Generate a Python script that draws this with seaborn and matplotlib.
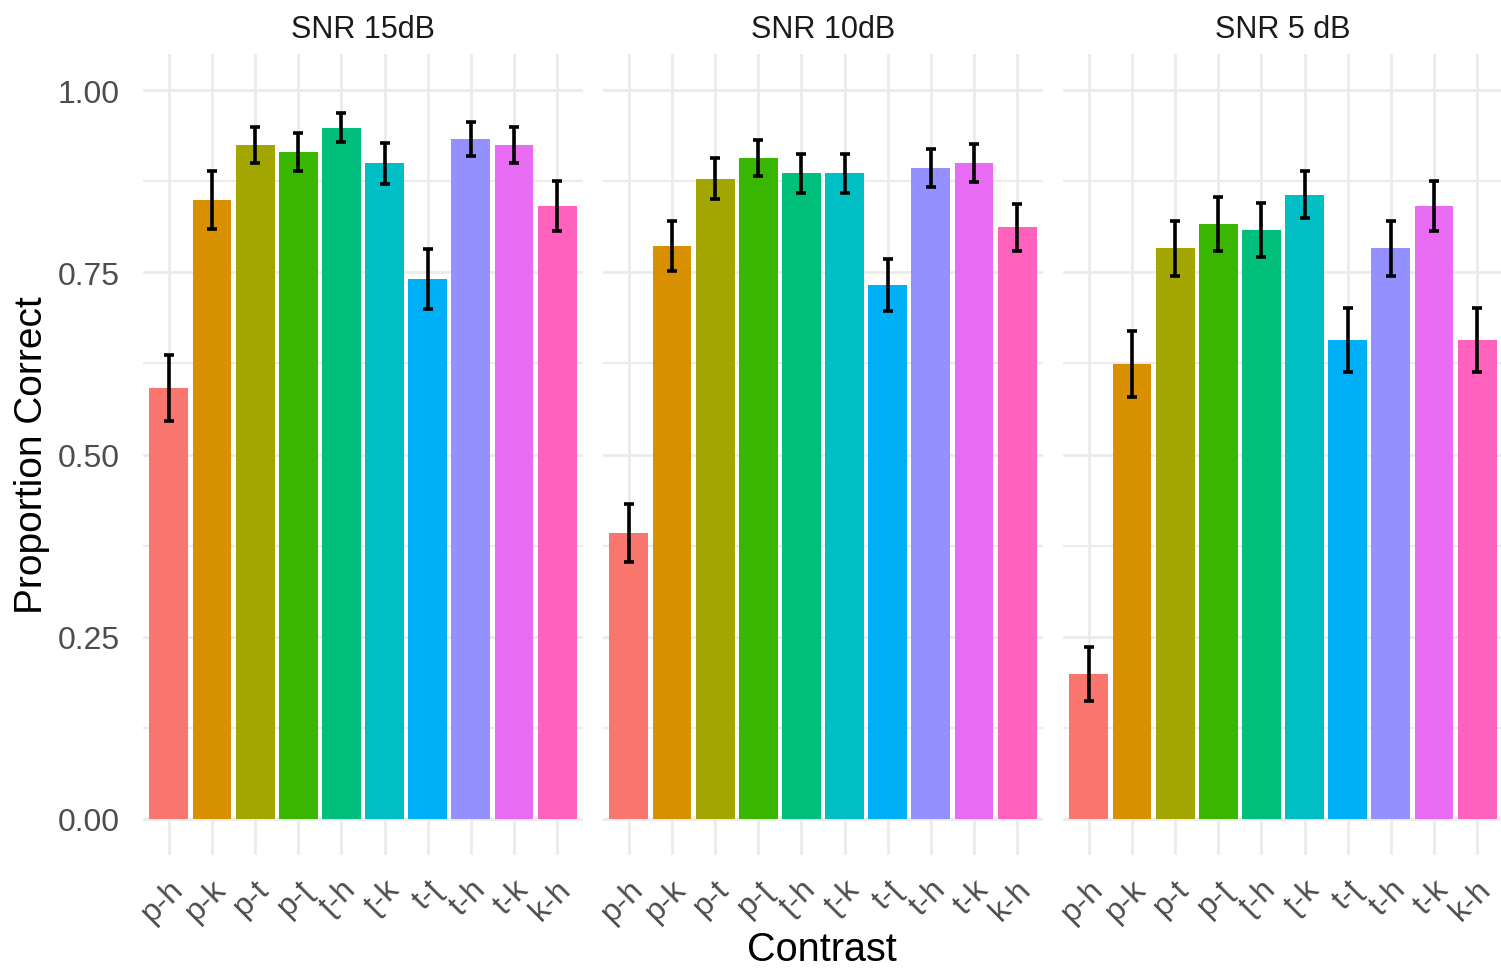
import matplotlib
matplotlib.use("Agg")
import matplotlib.pyplot as plt
import matplotlib.transforms as mtransforms
import seaborn as sns
import numpy as np
import pandas as pd
from matplotlib.ticker import FixedLocator

sns.set_theme(style="white")
plt.rcParams['font.family'] = ['Liberation Sans', 'DejaVu Sans']

contrasts = ["p-h", "p-k", "p-t", "p-ʈ", "ʈ-h", "ʈ-k", "t-ʈ", "t-h", "t-k", "k-h"]
panels = ["SNR 15dB", "SNR 10dB", "SNR 5 dB"]
mean_15 = [0.591, 0.849, 0.925, 0.916, 0.949, 0.900, 0.741, 0.933, 0.925, 0.841]
err_15 = [0.045, 0.040, 0.025, 0.026, 0.020, 0.028, 0.041, 0.023, 0.025, 0.034]
mean_10 = [0.392, 0.786, 0.879, 0.907, 0.886, 0.886, 0.733, 0.893, 0.900, 0.812]
err_10 = [0.040, 0.034, 0.028, 0.025, 0.027, 0.027, 0.036, 0.026, 0.026, 0.032]
mean_5 = [0.199, 0.624, 0.783, 0.816, 0.808, 0.857, 0.657, 0.783, 0.841, 0.657]
err_5 = [0.037, 0.045, 0.038, 0.037, 0.037, 0.032, 0.044, 0.038, 0.034, 0.044]
yticks = [0.0, 0.25, 0.50, 0.75, 1.00]
ytick_labels = ["0.00", "0.25", "0.50", "0.75", "1.00"]
colors = ["#F8766D", "#D89000", "#A3A500", "#39B600", "#00BF7D",
          "#00BFC4", "#00B0F6", "#9590FF", "#E76BF3", "#FF62BC"]

means = [mean_15, mean_10, mean_5]
errs = [err_15, err_10, err_5]

W, H = 1501, 970
fig = plt.figure(figsize=(W / 100, H / 100), dpi=100)
lefts = [143, 603, 1063]
aw = 440
top_px, bot_px = 55, 856

for i, (title, m, e) in enumerate(zip(panels, means, errs)):
    ax = fig.add_axes([lefts[i] / W, 1 - bot_px / H, aw / W, (bot_px - top_px) / H])
    df = pd.DataFrame({"Contrast": contrasts, "Proportion": m})
    sns.barplot(data=df, x="Contrast", y="Proportion", hue="Contrast",
                palette=colors, order=contrasts, hue_order=contrasts,
                errorbar=None, width=0.9, legend=False, ax=ax,
                saturation=1, linewidth=0)
    ax.errorbar(np.arange(len(contrasts)), m, yerr=e, fmt="none",
                ecolor="black", elinewidth=2.6, capsize=3.6, capthick=2.6, zorder=5)
    ax.set_xlim(-0.6, len(contrasts) - 0.4)
    ax.set_ylim(-0.05, 1.05)
    ax.yaxis.set_major_locator(FixedLocator(yticks))
    ax.yaxis.set_minor_locator(FixedLocator([0.125, 0.375, 0.625, 0.875]))
    ax.grid(True, which="major", axis="both", color="#EBEBEB", linewidth=2.0)
    ax.grid(True, which="minor", axis="y", color="#EBEBEB", linewidth=1.6)
    ax.set_axisbelow(True)
    for s in ax.spines.values():
        s.set_visible(False)
    ax.tick_params(axis="both", which="both", length=0, colors="#4D4D4D", labelsize=23)
    ax.set_xticks(range(len(contrasts)))
    ax.set_xticklabels(contrasts, rotation=45, ha="right", va="center",
                       rotation_mode="anchor")
    offset = mtransforms.ScaledTranslation(10 / 100, 0, fig.dpi_scale_trans)
    for lab in ax.get_xticklabels():
        lab.set_y(-0.03)
        lab.set_transform(lab.get_transform() + offset)
    ax.set_xlabel("")
    ax.set_ylabel("")
    if i == 0:
        ax.set_yticklabels(ytick_labels)
        ax.tick_params(axis="y", pad=17)
    else:
        ax.set_yticklabels([])
    ax.set_title(title, fontsize=22, color="#1A1A1A", pad=12)

fig.text(822 / W, 1 - 950 / H, "Contrast", ha="center", va="center",
         fontsize=28.5, color="black")
fig.text(32 / W, 1 - 455 / H, "Proportion Correct", ha="center", va="center",
         rotation=90, fontsize=28, color="black")

fig.savefig("out.png", dpi=100, facecolor="white")
